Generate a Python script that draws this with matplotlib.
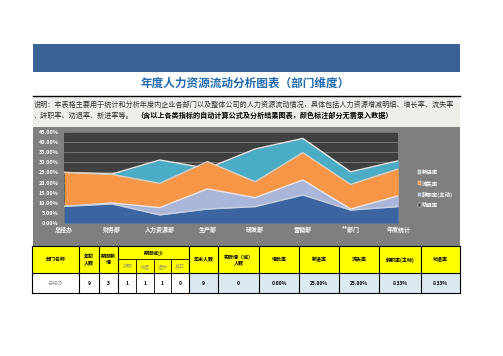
import matplotlib
matplotlib.use("Agg")
import matplotlib.pyplot as plt
from matplotlib.patches import Rectangle, Patch
import numpy as np

plt.rcParams['font.family'] = ['Noto Sans CJK SC', 'DejaVu Sans']

# ---- data ----------------------------------------------------------
categories = ['总经办', '财务部', '人力资源部', '生产部', '研发部', '营销部', '**部门', '年度统计']
new_rate    = [25.0, 24.2, 31.1, 27.0, 36.5, 41.7, 25.3, 30.7]   # 新进率
loss_rate   = [25.0, 24.0, 19.6, 30.3, 20.4, 34.7, 19.1, 26.7]   # 流失率
resign_rate = [8.33, 10.0, 7.7, 16.9, 12.6, 21.3, 7.0, 13.5]     # 辞职率(主动)
dismiss_rate = [8.33, 9.5, 4.1, 7.0, 8.2, 13.9, 6.5, 8.2]        # 劝退率
y_ticks = [0, 5, 10, 15, 20, 25, 30, 35, 40, 45]

series_names = ['新进率', '流失率', '辞职率(主动)', '劝退率']

title = '年度人力资源流动分析图表（部门维度）'
desc_line1 = ('说明：本表格主要用于统计和分析年度内企业各部门以及整体公司的人力资源流动情况，'
              '具体包括人力资源增减明细、增长率、流失率')
desc_line2a = '、辞职率、劝退率、新进率等。'
desc_line2b = '（含以上各类指标的自动计算公式及分析结果图表，颜色标注部分无需录入数据）'

header_main = ['部门名称', '年初\n人数', '期间新\n增', '', '', '', '', '年末人数',
               '实际增（减）\n人数', '增长率', '新进率', '流失率', '辞职率(主动)', '劝退率']
header_group = '期间减少'
header_sub = ['辞职', '劝退', '退休', '其它']
row_values = ['总经办', '9', '3', '1', '1', '1', '0', '9', '0',
              '0.00%', '25.00%', '25.00%', '8.33%', '8.33%']

# ---- styling -------------------------------------------------------
W, H = 503, 356
BANNER = '#3a6294'
TITLE_BLUE = '#1f6bb0'
DESC_BG = '#efeee8'
PANEL = '#7f7f7f'
PLOT_BG = '#404040'
GRID = '#767676'
C_TEAL = '#4bacc6'
C_ORANGE = '#f79646'
C_LIGHT = '#a9b6d9'
C_DARK = '#3b64a0'
YELLOW = '#ffff00'
CELL_BLUE = '#dbe9f1'

fig = plt.figure(figsize=(W / 100, H / 100), dpi=100)
fig.set_facecolor('white')

bg = fig.add_axes([0, 0, 1, 1])
bg.set_xlim(0, W)
bg.set_ylim(H, 0)
bg.axis('off')

# banner, title, description
bg.add_patch(Rectangle((33, 44), 427, 27.7, color=BANNER, lw=0))
bg.text(245, 83, title, color=TITLE_BLUE, fontsize=8.4, fontweight='bold',
        ha='center', va='center')
bg.plot([33, 460], [95.7, 95.7], color='black', lw=1)
bg.add_patch(Rectangle((33, 96.3), 427, 31, color=DESC_BG, lw=0))
bg.text(34, 104.5, desc_line1, fontsize=5.1, color='#333333', va='center')
t2 = bg.text(34, 115.5, desc_line2a, fontsize=5.1, color='#333333', va='center')
bg.text(136, 115.5, desc_line2b, fontsize=5.1, color='black', fontweight='bold',
        va='center')

# chart panel
bg.add_patch(Rectangle((33, 127.3), 427, 118.7, color=PANEL, lw=0))

# ---- chart ---------------------------------------------------------
x0, x1, y0, y1 = 64.3, 398.3, 131.7, 223.3
ax = fig.add_axes([x0 / W, 1 - y1 / H, (x1 - x0) / W, (y1 - y0) / H])
ax.set_facecolor(PLOT_BG)
x = np.arange(len(categories))
for vals, col, edge in [(new_rate, C_TEAL, '#e8e8e8'),
                        (loss_rate, C_ORANGE, '#e0d0c0'),
                        (resign_rate, C_LIGHT, '#e8e8f0'),
                        (dismiss_rate, C_DARK, '#c8d0e0')]:
    ax.fill_between(x, 0, vals, color=col, lw=0, zorder=3)
    ax.plot(x, vals, color=edge, lw=1.0, zorder=3)
ax.set_xlim(0, len(categories) - 1)
ax.set_ylim(0, 45)
ax.set_yticks(y_ticks)
ax.set_yticklabels([f'{v:.2f}%' for v in y_ticks], fontsize=3.9,
                   fontweight='bold', color='white')
ax.set_xticks(x)
ax.set_xticklabels(categories, fontsize=4.3, fontweight='bold', color='white')
ax.tick_params(length=0)
ax.tick_params(axis='y', pad=4.3)
ax.tick_params(axis='x', pad=2.0)
ax.grid(axis='y', color=GRID, lw=0.7, zorder=1)
ax.set_axisbelow(True)
for s in ax.spines.values():
    s.set_visible(False)

handles = [Patch(facecolor=c, edgecolor='white', lw=0.3)
           for c in ['#b8c4c8', C_ORANGE, C_LIGHT, PLOT_BG]]
fig.legend(handles, series_names, loc='upper left',
           bbox_to_anchor=(413 / W, 1 - 165 / H), frameon=False,
           fontsize=3.9, labelcolor='white', handlelength=0.6,
           handleheight=0.6, handletextpad=0.2, labelspacing=1.0,
           prop={'weight': 'bold', 'size': 3.9})

# ---- table ---------------------------------------------------------
col_edges = [32.3, 79.3, 98.7, 118.3, 136.3, 153.7, 171.3, 188.7, 218.3,
             258.7, 299.3, 339.3, 379.3, 420.7, 460.3]
r_top, r_mid, r_head, r_bot = 246, 259.3, 273.3, 293.3

bg.add_patch(Rectangle((col_edges[0], r_top), col_edges[-1] - col_edges[0],
                       r_head - r_top, color=YELLOW, lw=0))
for i, label in enumerate(header_main):
    if label:
        cx = (col_edges[i] + col_edges[i + 1]) / 2
        bg.text(cx, (r_top + r_head) / 2, label, fontsize=3.6,
                fontweight='bold', ha='center', va='center',
                linespacing=1.1)
bg.text((col_edges[3] + col_edges[7]) / 2, (r_top + r_mid) / 2, header_group,
        fontsize=3.6, fontweight='bold', ha='center', va='center')
for j, label in enumerate(header_sub):
    cx = (col_edges[3 + j] + col_edges[4 + j]) / 2
    bg.text(cx, (r_mid + r_head) / 2, label, fontsize=3.6, color='#9a9a6a',
            ha='center', va='center')

for i, val in enumerate(row_values):
    xl, xr = col_edges[i], col_edges[i + 1]
    face = 'white' if i < 7 else CELL_BLUE
    bg.add_patch(Rectangle((xl, r_head), xr - xl, r_bot - r_head, color=face, lw=0))
    if i == 0:
        bg.text((xl + xr) / 2, (r_head + r_bot) / 2, val, fontsize=3.8,
                color='#999999', ha='center', va='center')
    else:
        bg.text((xl + xr) / 2, (r_head + r_bot) / 2, val, fontsize=3.6,
                fontweight='bold', ha='center', va='center')

# grid lines of the table
for i, xe in enumerate(col_edges):
    if 4 <= i <= 6:
        bg.plot([xe, xe], [r_mid, r_bot], color='black', lw=0.6)
    else:
        bg.plot([xe, xe], [r_top, r_bot], color='black', lw=0.8)
bg.plot([col_edges[3], col_edges[7]], [r_mid, r_mid], color='black', lw=0.6)
for ye in [r_top, r_head, r_bot]:
    bg.plot([col_edges[0], col_edges[-1]], [ye, ye], color='black', lw=0.8)

fig.savefig('out.png', dpi=100, facecolor='white')
